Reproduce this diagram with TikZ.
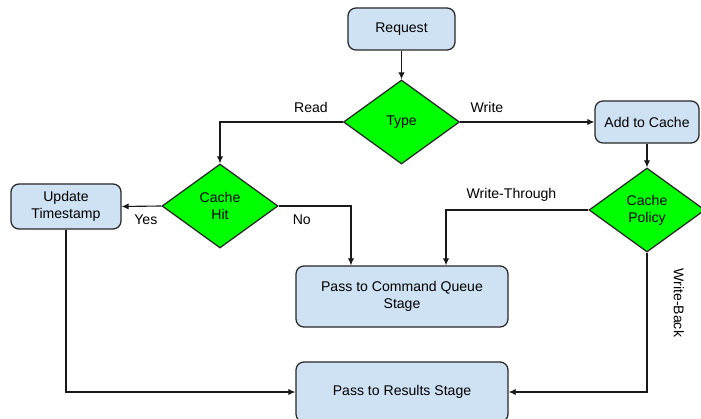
\documentclass[tikz,border=0pt]{standalone}
\usepackage{fontspec}
\setmainfont{Liberation Sans}
\usetikzlibrary{shapes.geometric,arrows.meta}
\definecolor{boxblue}{RGB}{207,226,243}
\definecolor{choicegreen}{RGB}{0,255,0}
\definecolor{edgegray}{RGB}{40,40,40}
\tikzset{
	stagebox/.style={draw=edgegray, fill=boxblue, rounded corners=0.2cm, line width=0.9pt, align=center, inner sep=2pt, font=\fontsize{10}{12}\selectfont},
	choice/.style={diamond, draw=edgegray, fill=choicegreen, line width=0.9pt, inner sep=0pt, minimum width=2.9cm, minimum height=2.1cm, align=center, font=\fontsize{10}{12}\selectfont},
	flow/.style={draw=black!90, line width=0.8pt, -{Latex[length=5pt,width=4.5pt]}},
	tag/.style={font=\fontsize{10}{12}\selectfont, inner sep=1pt}
}

\begin{document}
\begin{tikzpicture}[x=0.025cm, y=-0.025cm]
			%%%%% START %%%%%
			\useasboundingbox (0, 0) rectangle (701, 419);
			
			\node[stagebox, minimum width=2.675cm, minimum height=1.05cm] (request) at (401.5, 29) {Request};
			\node[choice] (type) at (401.5, 122) {Type};
			\node[stagebox, minimum width=2.6cm, minimum height=1.05cm] (addcache) at (647, 122) {Add to Cache};
			
			\node[choice] (hit) at (220, 206) {Cache\\Hit};
			\node[stagebox, minimum width=2.75cm, minimum height=1.125cm] (stamp) at (66, 206.5) {Update\\Timestamp};
			\node[choice] (policy) at (647, 210) {Cache\\Policy};
			
			\node[stagebox, minimum width=5.3cm, minimum height=1.525cm] (cmdqueue) at (402, 296.5) {Pass to Command Queue\\Stage};
			\node[stagebox, minimum width=5.3cm, minimum height=1.5cm] (results) at (402, 392) {Pass to Results Stage};
			
			% decisions
			\draw[flow] (request) -- (type);
			\draw[flow] (type.west) -| (hit.north) node[tag, pos=0.13, above=5pt] {Read};
			\draw[flow] (type.east) -- (addcache.west) node[tag, pos=0.2, above=5pt] {Write};
			\draw[flow] (addcache.south) -- (policy.north);
			
			\draw[flow] (hit.west) -- (stamp.east) node[tag, pos=0.39, below=5pt] {Yes};
			\draw[flow] (hit.east) -| ([xshift=-1.275cm]cmdqueue.north) node[tag, pos=0.16, below=5pt] {No};
			\draw[flow] (policy.west) -| ([xshift=1.1cm]cmdqueue.north) node[tag, pos=0.27, above=5pt] {Write-Through};
			
			% to results
			\draw[flow] (policy.south) |- (results.east) node[tag, pos=0.18, xshift=0.8cm, rotate=-90] {Write-Back};
			\draw[flow] (stamp.south) |- (results.west);
			
			%%%%% END %%%%%
\end{tikzpicture}
\end{document}
